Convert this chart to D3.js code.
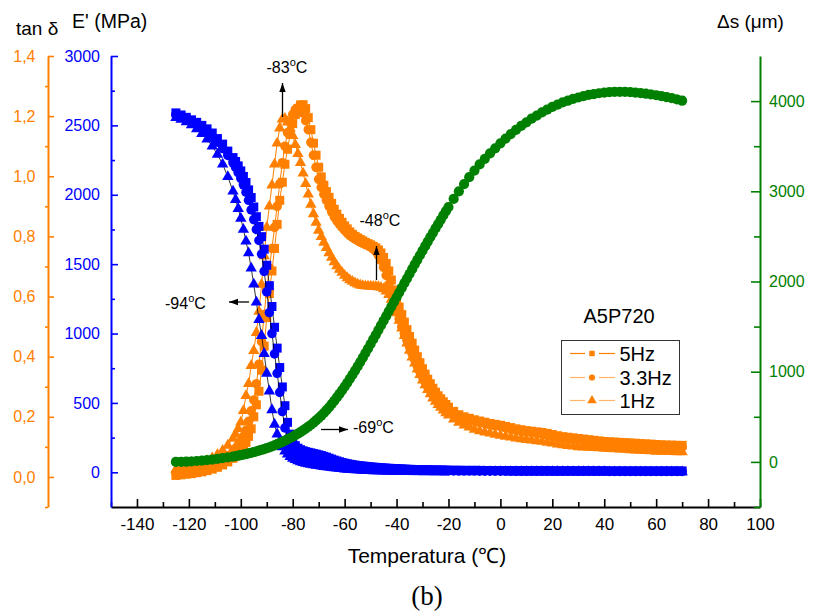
<!DOCTYPE html>
<html><head><meta charset="utf-8">
<script src="https://cdn.jsdelivr.net/npm/d3@7"></script>
<style>
body{margin:0;background:#fff;}
svg{display:block;}
text{font-family:"Liberation Sans",Arial,Helvetica,sans-serif;}
</style></head><body>
<svg id="c" width="813" height="612"></svg>
<script>
// ---------------- DATA ----------------
const temps = [
 -125,-123,-121,-119,-117,-115,-113,-111,-109,-107,-105,-103,
 -102,-101,-100,-99,-98,-97,-96,-95,-94,-93,-92,-91,-90,-89,-88,-87,-86,-85,-84,-83,-82,-81,-80,-79,-78,-77,-76,-75,-74,
 -73,-72,-71,-70,-69,-68,-67,-66,-65,-64,
 -63,-62,-61,-60,-59,-58,-57,-56,-55,-54,
 -53,-52,-51,-50,-49,-48,-47,-46,-45,-44,
 -43,-42,-41,-40,-39,-38,-37,-36,-35,-34,
 -33,-32,-31,-30,-29,-28,-27,-26,-25,-24,
 -23,-22,-21,-20,
 -18,-16,-14,-12,-10,-8,-6,-4,-2,0,
 2,4,6,8,10,12,14,16,18,20,
 22,24,26,28,30,32,34,36,38,40,
 42,44,46,48,50,52,54,56,58,60,
 62,64,66,68,70];

// E' (MPa)
const eSq5 = [
 2590,2575,2558,2540,2522,2500,2475,2445,2405,2365,2315,2268,
 2240,2208,2172,2132,2088,2035,1980,1912,1842,1772,1698,1608,1492,1345,1195,1045,895,755,615,480,360,275,222,192,174,163,155,149,144,
 140,135,131,126,121,115,109,102,95,88,
 82,76,71,66,62,58,55,52,49,47,
 45,43,41,39,37,36,34,33,31,30,
 29,28,27,26,25,24,23,22,21,21,
 20,20,19,19,18,18,17,17,16,16,
 16,16,15,15,
 15,15,14,14,14,14,13,13,13,13,
 13,12,12,12,12,12,12,12,12,11,
 11,11,11,11,11,11,11,11,11,11,
 10,10,10,10,10,10,10,10,10,10,
 10,10,10,10,10];
const eCi33 = [
 2580,2564,2546,2528,2508,2484,2456,2419,2379,2333,2284,2230,
 2197,2160,2119,2072,2019,1960,1891,1821,1750,1671,1573,1448,1300,1150,1000,853,713,576,438,320,240,185,150,135,124,116,110,104,99,
 95,92,88,85,81,77,72,68,63,59,
 55,51,47,44,41,39,37,35,33,31,
 29,28,27,26,25,24,23,22,21,20,
 19,18,17,17,16,16,15,15,14,14,
 13,13,12,12,12,12,11,11,11,11,
 10,10,10,10,
 10,9,9,9,9,8,8,8,8,8,
 8,8,7,7,7,7,7,7,7,7,
 7,7,7,7,7,7,7,7,7,7,
 6,6,6,6,6,6,6,6,6,6,
 6,6,6,6,6];
const eTr1 = [
 2555,2542,2525,2503,2475,2440,2400,2350,2290,2220,2130,2025,
 1965,1900,1830,1750,1665,1580,1470,1355,1225,1100,985,855,713,585,450,345,275,222,182,152,130,113,100,90,82,75,69,64,60,
 56,53,50,47,44,41,38,36,33,31,
 29,27,25,23,21,20,18,17,16,15,
 14,13,12,11,10,10,9,9,8,8,
 7,7,7,7,6,6,6,6,5,5,
 5,5,5,5,4,4,4,4,4,4,
 4,4,4,4,
 4,4,4,4,4,4,4,4,4,4,
 3,3,3,3,3,3,3,3,3,3,
 3,3,3,3,3,3,3,3,3,3,
 2,2,2,2,2,2,2,2,2,2,
 2,2,2,2,2];

// tan delta
const tSq5 = [
 0.005,0.007,0.009,0.011,0.014,0.017,0.021,0.026,0.032,0.04,0.05,0.062,
 0.07,0.078,0.088,0.1,0.115,0.135,0.16,0.2,0.24,0.285,0.355,0.435,0.53,0.61,0.685,0.76,0.84,0.92,0.98,1.04,1.09,1.14,1.175,1.205,1.225,1.237,1.238,1.225,1.195,
 1.155,1.11,1.07,1.03,0.998,0.97,0.949,0.93,0.91,0.89,
 0.874,0.86,0.847,0.835,0.825,0.815,0.807,0.8,0.795,0.79,
 0.785,0.78,0.776,0.772,0.767,0.762,0.755,0.745,0.73,0.71,
 0.685,0.655,0.622,0.59,0.565,0.54,0.515,0.49,0.467,0.445,
 0.422,0.4,0.38,0.36,0.342,0.325,0.31,0.295,0.282,0.27,
 0.26,0.25,0.241,0.232,
 0.218,0.207,0.2,0.195,0.19,0.186,0.182,0.178,0.175,0.172,
 0.168,0.164,0.16,0.157,0.154,0.152,0.15,0.148,0.145,0.141,
 0.137,0.134,0.132,0.13,0.128,0.126,0.124,0.122,0.12,0.118,
 0.117,0.116,0.115,0.114,0.113,0.112,0.111,0.11,0.109,0.108,
 0.107,0.106,0.106,0.105,0.105];
const tCi33 = [
 0.013,0.015,0.018,0.021,0.025,0.03,0.035,0.041,0.049,0.058,0.07,0.085,
 0.095,0.106,0.12,0.135,0.155,0.185,0.22,0.256,0.31,0.375,0.45,0.54,0.625,0.695,0.76,0.83,0.9,0.975,1.045,1.1,1.145,1.18,1.205,1.222,1.228,1.225,1.21,1.185,1.155,
 1.113,1.07,1.03,0.99,0.963,0.94,0.92,0.9,0.882,0.865,
 0.852,0.84,0.83,0.82,0.811,0.803,0.797,0.791,0.786,0.781,
 0.777,0.773,0.769,0.764,0.758,0.75,0.737,0.72,0.697,0.67,
 0.64,0.605,0.578,0.552,0.526,0.5,0.477,0.455,0.432,0.41,
 0.389,0.368,0.35,0.332,0.316,0.3,0.287,0.274,0.263,0.252,
 0.243,0.234,0.226,0.218,
 0.207,0.199,0.193,0.189,0.185,0.181,0.177,0.173,0.17,0.167,
 0.163,0.159,0.155,0.152,0.149,0.147,0.145,0.143,0.14,0.136,
 0.132,0.129,0.127,0.125,0.123,0.121,0.119,0.117,0.115,0.113,
 0.112,0.111,0.11,0.109,0.108,0.107,0.106,0.105,0.104,0.103,
 0.102,0.101,0.101,0.1,0.1];
const tTr1 = [
 0.025,0.028,0.032,0.036,0.041,0.047,0.054,0.063,0.074,0.088,0.105,0.128,
 0.142,0.16,0.182,0.22,0.27,0.31,0.37,0.42,0.48,0.55,0.64,0.735,0.83,0.9,0.97,1.04,1.11,1.16,1.19,1.192,1.18,1.16,1.135,1.105,1.075,1.045,1.01,0.975,0.94,
 0.906,0.875,0.846,0.82,0.799,0.78,0.762,0.745,0.73,0.715,
 0.702,0.69,0.68,0.67,0.662,0.655,0.65,0.645,0.641,0.638,
 0.636,0.635,0.634,0.634,0.633,0.633,0.632,0.63,0.625,0.618,
 0.606,0.59,0.569,0.545,0.52,0.495,0.47,0.445,0.421,0.398,
 0.378,0.358,0.34,0.322,0.306,0.29,0.276,0.262,0.251,0.24,
 0.231,0.222,0.213,0.205,
 0.192,0.181,0.172,0.165,0.158,0.153,0.149,0.145,0.141,0.138,
 0.135,0.132,0.129,0.126,0.124,0.122,0.12,0.118,0.115,0.112,
 0.109,0.106,0.104,0.102,0.1,0.099,0.098,0.097,0.096,0.095,
 0.094,0.093,0.092,0.091,0.09,0.089,0.088,0.087,0.086,0.085,
 0.085,0.084,0.084,0.083,0.083];

// delta s (um)
const dS = [
 0,1,3,6,10,15,20,26,33,41,50,59,
 64,69,75,81,87,94,101,108,116,124,
 133,142,152,162,173,184,196,209,222,236,
 250,265,280,296,313,331,350,369,390,
 412,435,460,486,513,542,573,606,641,677,
 715,754,794,835,877,921,966,1012,1059,1107,
 1156,1206,1256,1307,1358,1409,1461,1513,1565,1617,
 1669,1721,1773,1825,1877,1929,1981,2033,2085,2137,
 2189,2240,2291,2342,2392,2442,2491,2540,2588,2636,
 2684,2732,2779,2825,
 2915,3000,3080,3157,3230,3298,3360,3420,3477,3532,
 3585,3635,3680,3725,3765,3805,3840,3875,3905,3935,
 3960,3985,4005,4025,4040,4055,4068,4078,4087,4094,
 4099,4102,4103,4102,4099,4095,4089,4082,4074,4065,
 4055,4044,4032,4019,4005];

const xTicks = [-140,-120,-100,-80,-60,-40,-20,0,20,40,60,80,100];
const xMinor = [-150,-130,-110,-90,-70,-50,-30,-10,10,30,50,70,90];
const tanTicks = [0,0.2,0.4,0.6,0.8,1.0,1.2,1.4];
const tanTickLabels = ["0,0","0,2","0,4","0,6","0,8","1,0","1,2","1,4"];
const tanMinor = [-0.1,0.1,0.3,0.5,0.7,0.9,1.1,1.3];
const eTicks = [0,500,1000,1500,2000,2500,3000];
const eMinor = [250,750,1250,1750,2250,2750];
const sTicks = [0,1000,2000,3000,4000];
const sMinor = [-500,500,1500,2500,3500];
const legendNames = ["5Hz","3.3Hz","1Hz"];

// ---------------- DRAW ----------------
const orange = "#FF8000", blue = "#0000FF", green = "#008000", lightOrange = "#FFB36B";
const svg = d3.select("#c");
const x  = d3.scaleLinear([-150,100],[111,760]);
const yE = d3.scaleLinear([-250,3000],[507,56]);
const yT = d3.scaleLinear([-0.1,1.4],[507,56]);
const yS = d3.scaleLinear([-500,4500],[507,56]);
const plain = d => String(d);

function styleAxis(g, color, fs){
  g.select(".domain").attr("stroke", color).attr("stroke-width", 2);
  g.selectAll(".tick line").attr("stroke", color).attr("stroke-width", 1.6);
  g.selectAll(".tick text").attr("fill", color).style("font-size", fs+"px")
    .style("font-family", '"Liberation Sans",Arial,sans-serif');
}
function minorAxis(axis, tr, color){
  const g = svg.append("g").attr("transform", tr);
  g.call(axis.tickFormat(""));
  g.select(".domain").remove();
  g.selectAll(".tick line").attr("stroke", color).attr("stroke-width",1.6);
  return g;
}

// bottom axis
const gX = svg.append("g").attr("transform","translate(0,507)");
gX.call(d3.axisBottom(x).tickValues(xTicks).tickSize(-8).tickSizeOuter(0).tickPadding(11).tickFormat(plain));
styleAxis(gX, "#000", 17);
minorAxis(d3.axisBottom(x).tickValues(xMinor).tickSize(-5).tickSizeOuter(0), "translate(0,507)", "#000");

// orange tan delta axis
const gT = svg.append("g").attr("transform","translate(48,0)");
gT.call(d3.axisLeft(yT).tickValues(tanTicks).tickSize(-6).tickSizeOuter(0).tickPadding(12.5)
   .tickFormat((d,i)=>tanTickLabels[i]));
styleAxis(gT, orange, 16);
minorAxis(d3.axisLeft(yT).tickValues(tanMinor).tickSize(3).tickSizeOuter(0), "translate(48,0)", orange);

// blue E' axis
const gE = svg.append("g").attr("transform","translate(111,0)");
gE.call(d3.axisLeft(yE).tickValues(eTicks).tickSize(-7).tickSizeOuter(0).tickPadding(11).tickFormat(plain));
styleAxis(gE, blue, 16);
minorAxis(d3.axisLeft(yE).tickValues(eMinor).tickSize(-4).tickSizeOuter(0), "translate(111,0)", blue);

// green delta s axis
const gS = svg.append("g").attr("transform","translate(760,0)");
gS.call(d3.axisRight(yS).tickValues(sTicks).tickSize(-9).tickSizeOuter(0).tickPadding(9).tickFormat(plain));
styleAxis(gS, green, 16);
minorAxis(d3.axisRight(yS).tickValues(sMinor).tickSize(-6).tickSizeOuter(0), "translate(760,0)", green);

// series
const idx = d3.range(temps.length);
function series(vals, yScale, sym, size, fill, lineColor, lineW){
  const g = svg.append("g");
  g.append("path")
    .attr("d", d3.line().x(i=>x(temps[i])).y(i=>yScale(vals[i]))(idx))
    .attr("fill","none").attr("stroke", lineColor).attr("stroke-width", lineW);
  g.selectAll("path.m").data(idx).join("path").attr("class","m")
    .attr("transform", i=>`translate(${x(temps[i])},${yScale(vals[i])})`)
    .attr("d", d3.symbol(sym, size)()).attr("fill", fill);
}
series(tSq5, yT, d3.symbolSquare, 81, orange, orange, 1);
series(tCi33, yT, d3.symbolCircle, 72, orange, orange, 1);
series(tTr1, yT, d3.symbolTriangle, 56, orange, orange, 1);
series(eSq5, yE, d3.symbolSquare, 81, blue, "#000", 0.8);
series(eCi33, yE, d3.symbolCircle, 72, blue, "#000", 0.8);
series(eTr1, yE, d3.symbolTriangle, 56, blue, "#000", 0.8);
series(dS, yS, d3.symbolCircle, 82, green, green, 1);

// axis titles
svg.append("text").attr("x",16).attr("y",35).style("font-size","19px").text("tan δ");
svg.append("text").attr("x",72).attr("y",28).style("font-size","19.5px").text("E' (MPa)");
svg.append("text").attr("x",717).attr("y",28).style("font-size","19px").text("Δs (μm)");
svg.append("text").attr("x",427).attr("y",563).attr("text-anchor","middle").style("font-size","21px").text("Temperatura (℃)");
svg.append("text").attr("x",427).attr("y",605).attr("text-anchor","middle")
  .style("font-family",'"Liberation Serif","Times New Roman",serif').style("font-size","27px").text("(b)");

// annotations
function degLabel(xp, yp, num){
  const t = svg.append("text").attr("x",xp).attr("y",yp).style("font-size","16px");
  t.append("tspan").text(num);
  t.append("tspan").attr("dy",-7).style("font-size","11px").text("o");
  t.append("tspan").attr("dy",7).text("C");
}
function arrow(x1,y1,x2,y2){
  svg.append("line").attr("x1",x1).attr("y1",y1).attr("x2",x2).attr("y2",y2)
    .attr("stroke","#000").attr("stroke-width",1.3);
  const a = Math.atan2(y2-y1,x2-x1), L=9, Wd=3.2;
  const bx = x2 - L*Math.cos(a), by = y2 - L*Math.sin(a);
  const px = -Math.sin(a)*Wd, py = Math.cos(a)*Wd;
  svg.append("path").attr("d",`M${x2},${y2}L${bx+px},${by+py}L${bx-px},${by-py}Z`).attr("fill","#000");
}
degLabel(266.5,73,"-83"); arrow(282.5,117,282.5,83);
degLabel(359.5,226,"-48"); arrow(376.5,280,376.5,246);
degLabel(165,309,"-94"); arrow(249,302,229,302);
degLabel(353,433,"-69"); arrow(321,429.5,348,429.5);

// legend
svg.append("text").attr("x",583.5).attr("y",323).style("font-size","20px").text("A5P720");
svg.append("rect").attr("x",561.5).attr("y",340.5).attr("width",118).attr("height",74)
  .attr("fill","#fff").attr("stroke","#333").attr("stroke-width",1);
const legSyms = [d3.symbolSquare, d3.symbolCircle, d3.symbolTriangle];
const legLine = [orange, lightOrange, lightOrange];
const legY = [353.5, 377.5, 400.5];
legendNames.forEach((n,i)=>{
  svg.append("line").attr("x1",570).attr("x2",585).attr("y1",legY[i]).attr("y2",legY[i]).attr("stroke",legLine[i]).attr("stroke-width",1.2);
  svg.append("line").attr("x1",599).attr("x2",615).attr("y1",legY[i]).attr("y2",legY[i]).attr("stroke",legLine[i]).attr("stroke-width",1.2);
  svg.append("path").attr("transform",`translate(592,${legY[i]})`).attr("d",d3.symbol(legSyms[i], i===2?40:30)()).attr("fill",orange);
  svg.append("text").attr("x",619.5).attr("y",legY[i]+7).style("font-size","20px").text(n);
});
</script>
</body></html>
